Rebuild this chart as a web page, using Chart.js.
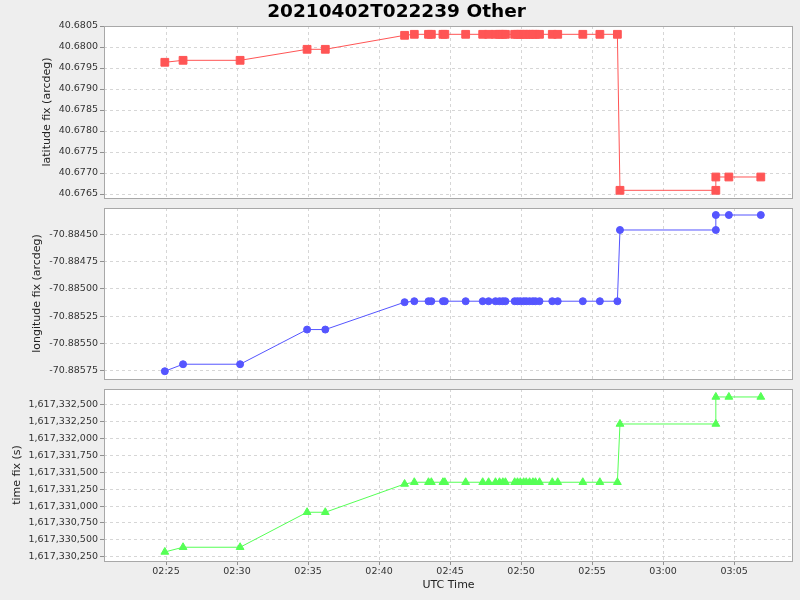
<!DOCTYPE html>
<html>
<head>
<meta charset="utf-8">
<script src="https://cdn.jsdelivr.net/npm/chart.js@4.4.1/dist/chart.umd.min.js"></script>
<style>
    body { margin: 0; background: #eeeeee; }
    .wrap { position: relative; width: 800px; height: 600px; }
    .wrap canvas { position: absolute; left: 0; top: 0; }
</style>
</head>
<body>
<div class="wrap">
    <canvas id="latChart" width="800" height="600"></canvas>
    <canvas id="lonChart" width="800" height="600"></canvas>
    <canvas id="timeChart" width="800" height="600"></canvas>
</div>
<script>
// UTC times of each fix
const times = [
    '02:24:55', '02:26:12', '02:30:13', '02:34:56', '02:36:13', '02:41:48',
    '02:42:29', '02:43:29', '02:43:41', '02:44:30', '02:44:38', '02:46:06',
    '02:47:18', '02:47:43', '02:48:12', '02:48:29', '02:48:43', '02:48:54',
    '02:49:33', '02:49:45', '02:49:57', '02:50:11', '02:50:22', '02:50:36',
    '02:50:50', '02:51:01', '02:51:18', '02:52:12', '02:52:35', '02:54:21',
    '02:55:33', '02:56:47', '02:56:58', '03:03:43', '03:03:43', '03:04:38',
    '03:06:53'
];

const latitude = [
    40.679636, 40.679683, 40.679683, 40.679945, 40.679945, 40.680278,
    40.680302, 40.680302, 40.680302, 40.680302, 40.680302, 40.680302,
    40.680302, 40.680302, 40.680302, 40.680302, 40.680302, 40.680302,
    40.680302, 40.680302, 40.680302, 40.680302, 40.680302, 40.680302,
    40.680302, 40.680302, 40.680302, 40.680302, 40.680302, 40.680302,
    40.680302, 40.680302, 40.676588, 40.676588, 40.676905, 40.676905,
    40.676905
];

const longitude = [
    -70.885754, -70.885690, -70.885690, -70.885373, -70.885373, -70.885123,
    -70.885114, -70.885114, -70.885114, -70.885114, -70.885114, -70.885114,
    -70.885114, -70.885114, -70.885114, -70.885114, -70.885114, -70.885114,
    -70.885114, -70.885114, -70.885114, -70.885114, -70.885114, -70.885114,
    -70.885114, -70.885114, -70.885114, -70.885114, -70.885114, -70.885114,
    -70.885114, -70.885114, -70.884463, -70.884463, -70.884326, -70.884326,
    -70.884326
];

const timeFix = [
    1617330320, 1617330390, 1617330390, 1617330909, 1617330909, 1617331328,
    1617331354, 1617331354, 1617331354, 1617331354, 1617331354, 1617331354,
    1617331354, 1617331354, 1617331354, 1617331354, 1617331354, 1617331354,
    1617331354, 1617331354, 1617331354, 1617331354, 1617331354, 1617331354,
    1617331354, 1617331354, 1617331354, 1617331354, 1617331354, 1617331354,
    1617331354, 1617331354, 1617332218, 1617332218, 1617332619, 1617332619,
    1617332619
];

// axis ranges and tick values
const xRange = ['02:20:38', '03:09:09'];
const xTicks = ['02:25', '02:30', '02:35', '02:40', '02:45', '02:50', '02:55', '03:00', '03:05'];
const latRange = [40.676405, 40.6805];
const latTicks = [40.6765, 40.6770, 40.6775, 40.6780, 40.6785, 40.6790, 40.6795, 40.6800, 40.6805];
const lonRange = [-70.885825, -70.884262];
const lonTicks = [-70.88575, -70.88550, -70.88525, -70.88500, -70.88475, -70.88450];
const timeRange = [1617330186, 1617332737];
const timeTicks = [1617330250, 1617330500, 1617330750, 1617331000, 1617331250,
    1617331500, 1617331750, 1617332000, 1617332250, 1617332500];

function toSec(t) {
    const p = t.split(':').map(Number);
    return p[0] * 3600 + p[1] * 60 + (p[2] || 0);
}

function fmtTime(v) {
    const h = Math.floor(v / 3600);
    const m = Math.round((v - h * 3600) / 60);
    return String(h).padStart(2, '0') + ':' + String(m).padStart(2, '0');
}

const FONT = 'DejaVu Sans';
const gridColor = '#d6d6d6';

// white plot background + grey frame
const plotFrame = {
    id: 'plotFrame',
    beforeDraw(chart) {
        const a = chart.chartArea, ctx = chart.ctx;
        ctx.save();
        ctx.fillStyle = '#ffffff';
        ctx.fillRect(a.left, a.top, a.right - a.left, a.bottom - a.top);
        ctx.restore();
    },
    afterDraw(chart) {
        const a = chart.chartArea, ctx = chart.ctx;
        ctx.save();
        ctx.strokeStyle = '#a8a8a8';
        ctx.lineWidth = 1;
        ctx.strokeRect(a.left + 0.5, a.top + 0.5, a.right - a.left - 1, a.bottom - a.top);
        ctx.restore();
    }
};

function makePanel(id, values, range, ticks, yTitle, titlePad, color, style, radius, fmt, pad, showX, title) {
    const ctx = document.getElementById(id).getContext('2d');
    return new Chart(ctx, {
        type: 'line',
        data: {
            datasets: [{
                data: times.map((t, i) => ({ x: toSec(t), y: values[i] })),
                borderColor: color,
                backgroundColor: color,
                borderWidth: 1,
                pointStyle: style,
                pointRadius: radius,
                pointBorderWidth: 1,
                tension: 0
            }]
        },
        options: {
            responsive: false,
            animation: false,
            layout: { padding: pad },
            plugins: {
                legend: { display: false },
                tooltip: { enabled: false },
                title: title ? {
                    display: true,
                    text: title,
                    color: '#000000',
                    font: { family: FONT, size: 18.5, weight: 'bold' },
                    padding: { top: 1, bottom: 2.8 }
                } : { display: false }
            },
            scales: {
                x: {
                    type: 'linear',
                    min: toSec(xRange[0]),
                    max: toSec(xRange[1]),
                    afterBuildTicks: s => { s.ticks = xTicks.map(t => ({ value: toSec(t) })); },
                    grid: {
                        color: gridColor,
                        drawTicks: showX,
                        tickLength: 4,
                        tickColor: '#909090'
                    },
                    border: { display: false, dash: [3, 3] },
                    ticks: {
                        display: showX,
                        autoSkip: false,
                        padding: 1,
                        maxRotation: 0,
                        color: '#333333',
                        font: { family: FONT, size: 9.5 },
                        callback: v => fmtTime(v)
                    },
                    title: {
                        display: showX,
                        text: 'UTC Time',
                        color: '#222222',
                        font: { family: FONT, size: 11 },
                        padding: { top: 2, bottom: 8.4 }
                    },
                    afterFit: s => {
                        s.height = showX ? 39 : 0;
                        s.paddingLeft = 0;
                        s.paddingRight = 0;
                    }
                },
                y: {
                    type: 'linear',
                    min: range[0],
                    max: range[1],
                    afterBuildTicks: s => { s.ticks = ticks.map(v => ({ value: v })); },
                    grid: {
                        color: gridColor,
                        tickLength: 4,
                        tickColor: '#909090'
                    },
                    border: { display: false, dash: [3, 3] },
                    ticks: {
                        autoSkip: false,
                        padding: 2,
                        color: '#333333',
                        font: { family: FONT, size: 9.5 },
                        callback: v => fmt(v)
                    },
                    title: {
                        display: true,
                        text: yTitle,
                        color: '#222222',
                        font: { family: FONT, size: 11 },
                        padding: { top: titlePad, bottom: 0 }
                    },
                    afterFit: s => {
                        s.width = 104;
                        s.paddingTop = 0;
                        s.paddingBottom = 0;
                    }
                }
            }
        },
        plugins: [plotFrame]
    });
}

// 纬度面板
makePanel('latChart', latitude, latRange, latTicks, 'latitude fix (arcdeg)', 40.8,
    '#ff5555', 'rect', 5.5, v => v.toFixed(4),
    { top: 0, bottom: 402, left: 0, right: 7 }, false, '20210402T022239 Other');

// 经度面板
makePanel('lonChart', longitude, lonRange, lonTicks, 'longitude fix (arcdeg)', 31,
    '#5555ff', 'circle', 3.5, v => v.toFixed(5),
    { top: 208, bottom: 221, left: 0, right: 7 }, false, null);

// 时间面板
makePanel('timeChart', timeFix, timeRange, timeTicks, 'time fix (s)', 11,
    '#55ff55', 'triangle', 4.5, v => Math.round(v).toLocaleString('en-US'),
    { top: 389, bottom: 0, left: 0, right: 7 }, true, null);
</script>
</body>
</html>
